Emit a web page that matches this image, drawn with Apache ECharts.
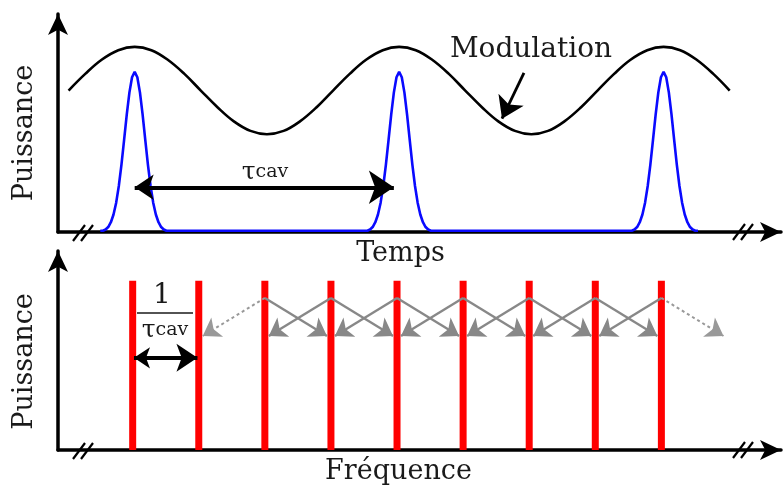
<!DOCTYPE html>
<html><head><meta charset="utf-8">
<script src="https://cdn.jsdelivr.net/npm/echarts@6/dist/echarts.min.js"></script>
<style>html,body{margin:0;padding:0;background:#fff}#c{width:783px;height:492px}</style>
</head><body><div id="c"></div>
<script>
// ---------- Top panel (time, in units of tau_cav) ----------
const modulationTime = [0.04,0.103,0.165,0.228,0.29,0.353,0.415,0.478,0.54,0.603,0.665,0.728,0.79,0.853,0.915,0.978,
  1.04,1.103,1.165,1.228,1.29,1.353,1.415,1.478,1.54,1.603,1.665,1.728,1.79,1.853,1.915,1.978,
  2.04,2.103,2.165,2.228,2.29,2.353,2.415,2.478,2.54];
const modulationPower = [68,76,82.8,87.4,89,87.4,82.8,76,68,60,53.2,48.6,47,48.6,53.2,60,
  68,76,82.8,87.4,89,87.4,82.8,76,68,60,53.2,48.6,47,48.6,53.2,60,
  68,76,82.8,87.4,89,87.4,82.8,76,68];
const pulseCenters = [0.29, 1.29, 2.29];
const pulseOffsets = [-0.13,-0.12,-0.11,-0.10,-0.09,-0.08,-0.07,-0.06,-0.05,-0.04,-0.03,-0.02,-0.01,0,
  0.01,0.02,0.03,0.04,0.05,0.06,0.07,0.08,0.09,0.10,0.11,0.12,0.13];
const pulseShape = [0.6,0.6,1.2,2.4,4.7,8.4,14.1,22.1,32.4,44.3,56.4,67,74.4,77,
  74.4,67,56.4,44.3,32.4,22.1,14.1,8.4,4.7,2.4,1.2,0.6,0.6];
const pulseTrace = [0.16, 2.42];      // start / end of the pulse-train trace
const pulseBaseline = 0.6;
const tauArrowX = [0.29, 1.27];
const tauArrowLevel = 21.5;
const modulationArrowX = [1.762, 1.679];
const modulationArrowY = [76.5, 54.5];

// ---------- Bottom panel (frequency, in units of 1/tau_cav) ----------
const combFrequencies = [1.13,2.13,3.13,4.13,5.13,6.13,7.13,8.13,9.13];
const combPower = [89,89,89,89,89,89,89,89,89];
const couplingFrom = 80;
const couplingTo = 60;
const couplingEndGap = 0.06;
const spacingArrowX = [1.15, 2.11];
const spacingArrowLevel = 48.5;

// ---------- build series data ----------
const modulationData = modulationTime.map((t, i) => [t, modulationPower[i]]);
const pulseData = [[pulseTrace[0], pulseBaseline]];
pulseCenters.forEach(c => pulseOffsets.forEach((d, i) => pulseData.push([+(c + d).toFixed(3), pulseShape[i]])));
pulseData.push([pulseTrace[1], pulseBaseline]);

const combData = combFrequencies.map((f, i) => [f, combPower[i]]);
const solidCoupling = [], dashedCoupling = [];
for (let i = 2; i < combFrequencies.length; i++) {
  const f = combFrequencies[i];
  const left = combFrequencies[i - 1];
  const right = i + 1 < combFrequencies.length ? combFrequencies[i + 1] : f + (f - left);
  const l = {coords: [[f, couplingFrom], [left + couplingEndGap, couplingTo]]};
  const r = {coords: [[f, couplingFrom], [right - couplingEndGap, couplingTo]]};
  (i === 2 ? dashedCoupling : solidCoupling).push(l);
  (i === combFrequencies.length - 1 ? dashedCoupling : solidCoupling).push(r);
}

const FONT = 'DejaVu Serif';
const axisCommon = {
  splitLine: {show: false}, axisTick: {show: false}, axisLabel: {show: false},
  axisLine: {show: true, symbol: ['none', 'arrow'], symbolSize: [15, 21],
    lineStyle: {color: '#000', width: 3.5}}
};
const nameStyle = {fontFamily: FONT, fontSize: 27, color: '#1a1a1a'};

function breakMark(cx, cy) {
  const a = 4, w = 6, h = 8;
  return {
    type: 'group', z: 100, children: [
      {type: 'polygon', shape: {points: [[cx - a - w, cy + h], [cx - a + w, cy - h], [cx + a + w, cy - h], [cx + a - w, cy + h]]},
        style: {fill: '#fff'}},
      {type: 'line', shape: {x1: cx - a - w, y1: cy + h, x2: cx - a + w, y2: cy - h}, style: {stroke: '#000', lineWidth: 2.2}},
      {type: 'line', shape: {x1: cx + a - w, y1: cy + h, x2: cx + a + w, y2: cy - h}, style: {stroke: '#000', lineWidth: 2.2}}
    ]
  };
}
const tauRich = {t: {fontFamily: FONT, fontSize: 25, fill: '#1a1a1a'}, s: {fontFamily: FONT, fontSize: 19, fill: '#1a1a1a'}};

const chart = echarts.init(document.getElementById('c'), null, {renderer: 'canvas'});
chart.setOption({
  animation: false,
  backgroundColor: '#fff',
  grid: [
    {left: 58, right: 2, top: 14, bottom: 260},
    {left: 58, right: 2, top: 251, bottom: 42}
  ],
  xAxis: [
    Object.assign({type: 'value', gridIndex: 0, min: 0, max: 2.734, name: 'Temps', nameLocation: 'middle', nameGap: 8,
      nameTextStyle: Object.assign({verticalAlign: 'top', padding: [0, 38, 0, 0]}, nameStyle)}, axisCommon),
    Object.assign({type: 'value', gridIndex: 1, min: 0, max: 10.94, name: 'Fréquence', nameLocation: 'middle', nameGap: 8,
      nameTextStyle: Object.assign({verticalAlign: 'top', padding: [0, 42, 0, 0]}, nameStyle)}, axisCommon)
  ],
  yAxis: [
    Object.assign({type: 'value', gridIndex: 0, min: 0, max: 104.8, name: 'Puissance', nameLocation: 'middle', nameGap: 20,
      nameTextStyle: Object.assign({padding: [0, 20, 0, 0]}, nameStyle)}, axisCommon),
    Object.assign({type: 'value', gridIndex: 1, min: 0, max: 104.7, name: 'Puissance', nameLocation: 'middle', nameGap: 20,
      nameTextStyle: Object.assign({padding: [0, 22, 0, 0]}, nameStyle)}, axisCommon)
  ],
  series: [
    {type: 'line', name: 'Modulation', xAxisIndex: 0, yAxisIndex: 0, data: modulationData, smooth: 0.4,
      showSymbol: false, symbol: 'none', lineStyle: {color: '#000', width: 2.6}},
    {type: 'line', name: 'Impulsions', xAxisIndex: 0, yAxisIndex: 0, data: pulseData, smooth: false,
      showSymbol: false, symbol: 'none', lineStyle: {color: '#0a0aff', width: 2.6}, z: 3},
    {type: 'lines', coordinateSystem: 'cartesian2d', xAxisIndex: 0, yAxisIndex: 0, z: 4,
      data: [{coords: [[tauArrowX[0], tauArrowLevel], [tauArrowX[1], tauArrowLevel]]}],
      symbol: ['arrow', 'arrow'], symbolSize: [19, 25], lineStyle: {color: '#000', width: 4.2, opacity: 1}},
    {type: 'lines', coordinateSystem: 'cartesian2d', xAxisIndex: 0, yAxisIndex: 0, z: 4,
      data: [{coords: [[modulationArrowX[0], modulationArrowY[0]], [modulationArrowX[1], modulationArrowY[1]]]}],
      symbol: ['none', 'arrow'], symbolSize: [15, 21], lineStyle: {color: '#000', width: 2.8, opacity: 1}},
    {type: 'bar', name: 'Modes', xAxisIndex: 1, yAxisIndex: 1, data: combData, barWidth: 7,
      itemStyle: {color: '#ff0000'}},
    {type: 'lines', coordinateSystem: 'cartesian2d', xAxisIndex: 1, yAxisIndex: 1, z: 4, data: solidCoupling,
      symbol: ['none', 'arrow'], symbolSize: [13, 17], lineStyle: {color: '#888888', width: 2.4, opacity: 1}},
    {type: 'lines', coordinateSystem: 'cartesian2d', xAxisIndex: 1, yAxisIndex: 1, z: 4, data: dashedCoupling,
      symbol: ['none', 'arrow'], symbolSize: [13, 17], lineStyle: {color: '#999999', width: 2, type: [3, 3], opacity: 1}},
    {type: 'lines', coordinateSystem: 'cartesian2d', xAxisIndex: 1, yAxisIndex: 1, z: 4,
      data: [{coords: [[spacingArrowX[0], spacingArrowLevel], [spacingArrowX[1], spacingArrowLevel]]}],
      symbol: ['arrow', 'arrow'], symbolSize: [16, 21], lineStyle: {color: '#000', width: 3.8, opacity: 1}}
  ],
  graphic: [
    {type: 'text', z: 100, x: 531, y: 50, style: {text: 'Modulation', font: '28px "DejaVu Serif"', fill: '#1a1a1a',
      align: 'center', verticalAlign: 'middle'}},
    {type: 'text', z: 100, x: 265, y: 185, style: {text: '{t|τ}{s|cav}', align: 'center', verticalAlign: 'bottom', rich: tauRich}},
    {type: 'text', z: 100, x: 162, y: 296, style: {text: '1', font: '28px "DejaVu Serif"', fill: '#1a1a1a',
      align: 'center', verticalAlign: 'middle'}},
    {type: 'line', z: 100, shape: {x1: 137, y1: 313, x2: 193, y2: 313}, style: {stroke: '#1a1a1a', lineWidth: 1.5}},
    {type: 'text', z: 100, x: 165, y: 343, style: {text: '{t|τ}{s|cav}', align: 'center', verticalAlign: 'bottom', rich: tauRich}},
    breakMark(83, 233), breakMark(743, 232), breakMark(83, 451), breakMark(743, 450)
  ]
});
</script></body></html>
